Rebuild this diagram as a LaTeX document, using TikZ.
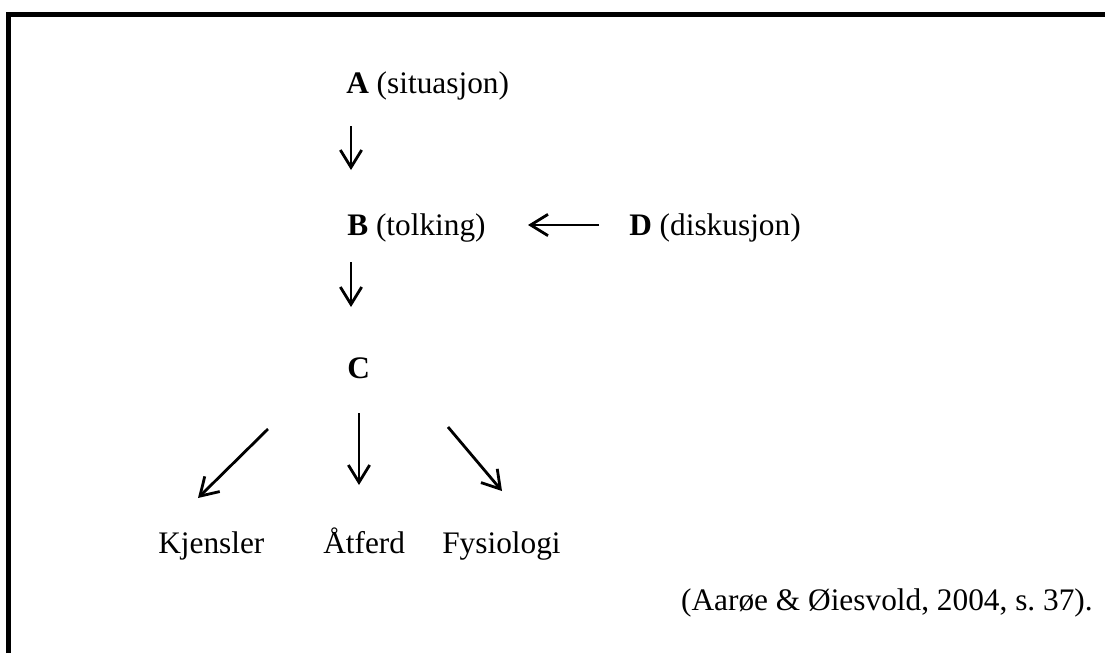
\documentclass[tikz,border=0pt]{standalone}
\usepackage{fontspec}
\setmainfont{Liberation Serif}
\usetikzlibrary{arrows.meta}
\frenchspacing
\begin{document}
\begin{tikzpicture}[x=0.75pt,y=-0.75pt,
  lbl/.style={inner sep=0pt, anchor=base west, font=\fontsize{23.5}{28}\selectfont},
  arr/.style={line width=2.1pt, -{Straight Barb[length=13pt,width=16pt,line width=2.1pt]}},
  frame/.style={line width=3.75pt}]
\useasboundingbox (0,0) rectangle (1105,653);
\draw[frame] (8.5,653) -- (8.5,14.5) -- (1105,14.5);
% texts
\node[lbl] (a) at (346,93) {\textbf{A} (situasjon)};
\node[lbl] (b) at (347,235) {\textbf{B} (tolking)};
\node[lbl] (d) at (629,235) {\textbf{D} (diskusjon)};
\node[lbl] (c) at (347,378) {\textbf{C}};
\node[lbl] (k) at (158,553) {Kjensler};
\node[lbl] (at) at (323,553) {Åtferd};
\node[lbl] (f) at (442,553) {Fysiologi};
\node[lbl, anchor=base east] (ref) at (1093,610) {(Aarøe \& Øiesvold, 2004, s.\ 37).};
% connector ends
\coordinate (ab1) at (351,126); \coordinate (ab2) at (351,170);
\coordinate (bc1) at (351,262); \coordinate (bc2) at (351,307);
\coordinate (db1) at (599,225); \coordinate (db2) at (528,225);
\coordinate (ck1) at (268,429); \coordinate (ck2) at (198,498);
\coordinate (ca1) at (359,413); \coordinate (ca2) at (359,485);
\coordinate (cf1) at (448,427); \coordinate (cf2) at (502,491);
\draw[arr] (ab1) -- (ab2);
\draw[arr] (bc1) -- (bc2);
\draw[arr] (db1) -- (db2);
\draw[arr] (ck1) -- (ck2);
\draw[arr] (ca1) -- (ca2);
\draw[arr] (cf1) -- (cf2);
\end{tikzpicture}
\end{document}
